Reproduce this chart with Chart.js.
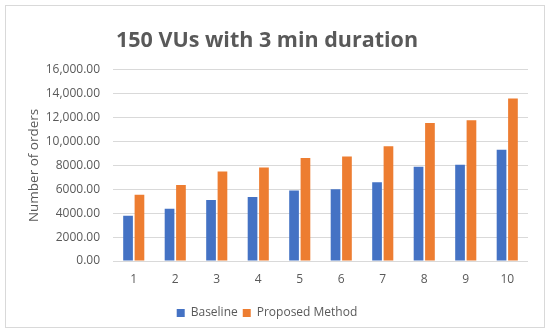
<!DOCTYPE html>
<html>
<head>
<meta charset="utf-8">
<script src="https://cdn.jsdelivr.net/npm/chart.js@4"></script>
<style>
  body { margin: 0; background: #fff; }
  #box { position: absolute; left: 5px; top: 5px; width: 538px; height: 321px; border: 1px solid #d9d9d9; overflow: hidden; }
</style>
</head>
<body>
<div id="box"><canvas id="chart" width="538" height="323"></canvas></div>
<script>
const categories = ["1", "2", "3", "4", "5", "6", "7", "8", "9", "10"];
const baseline = [3780, 4370, 5100, 5350, 5900, 6000, 6580, 7880, 8050, 9300];
const proposed = [5550, 6350, 7500, 7830, 8620, 8750, 9600, 11540, 11780, 13600];

const grey = "#595959";
const fontFamily = "'Open Sans', 'Noto Sans', sans-serif";

function fmt(v) {
  const s = v.toFixed(2);
  if (v < 10000) return s;
  const [i, d] = s.split(".");
  return i.replace(/\B(?=(\d{3})+(?!\d))/g, ",") + "." + d;
}

new Chart(document.getElementById("chart"), {
  type: "bar",
  data: {
    labels: categories,
    datasets: [
      { label: "Baseline", data: baseline, backgroundColor: "#4472C4", categoryPercentage: 0.55, barPercentage: 0.85 },
      { label: "Proposed Method", data: proposed, backgroundColor: "#ED7D31", categoryPercentage: 0.55, barPercentage: 0.85 },
    ],
  },
  options: {
    responsive: false,
    animation: false,
    layout: { padding: { left: 0, right: 16, top: 0, bottom: 0 } },
    plugins: {
      title: {
        display: true,
        text: "150 VUs with 3 min duration",
        color: grey,
        font: { family: fontFamily, size: 21.5, weight: "bold" },
        padding: { top: 22, bottom: 16 },
      },
      legend: {
        position: "bottom",
        labels: {
          color: grey,
          font: { family: fontFamily, size: 12 },
          boxWidth: 8,
          boxHeight: 8,
          padding: 5,
        },
      },
      tooltip: { enabled: false },
    },
    scales: {
      x: {
        afterFit: (s) => { s.height = 41; },
        grid: { display: false, drawTicks: false },
        border: { display: false },
        ticks: { color: grey, font: { family: fontFamily, size: 12 }, padding: 11 },
      },
      y: {
        min: 0,
        max: 16000,
        afterFit: (s) => { s.width = 107; },
        grid: { color: "#d9d9d9", drawTicks: false },
        border: { display: false },
        ticks: { stepSize: 2000, color: grey, font: { family: fontFamily, size: 12 }, padding: 13, callback: (v) => fmt(v) },
        title: { display: true, text: "Number of orders", color: grey, font: { family: fontFamily, size: 13.5 }, padding: { top: 20 } },
      },
    },
  },
});
</script>
</body>
</html>
